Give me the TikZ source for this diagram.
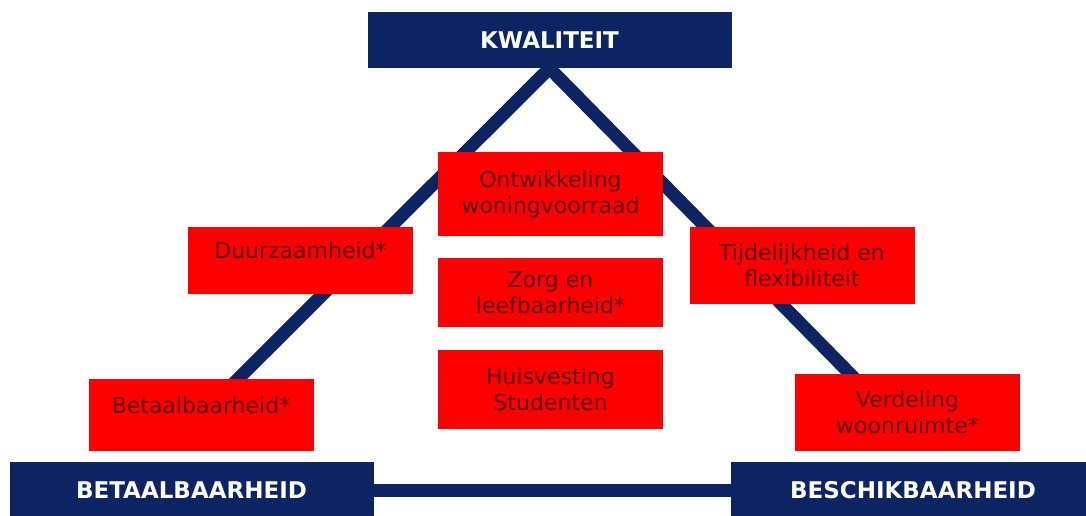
\documentclass[tikz,border=0pt]{standalone}
\usepackage{fontspec}
\setmainfont{DejaVu Sans}
\usetikzlibrary{calc,backgrounds}
\definecolor{navy}{RGB}{12,36,97}
\definecolor{darkred}{RGB}{90,0,0}
\tikzset{
  pole/.style={fill=navy, text=white, font=\bfseries\fontsize{23}{27}\selectfont,
    minimum width=364pt, minimum height=56pt, inner sep=0pt},
  theme/.style={fill=red, text=darkred, font=\fontsize{22}{26}\selectfont,
    align=center, minimum width=225pt, inner sep=0pt},
  edge/.style={draw=navy, line width=13pt}
}

\begin{document}
\begin{tikzpicture}[x=1pt, y=-1pt]
  %
  \useasboundingbox (0,0) rectangle (1086,516);
  \clip (0,0) rectangle (1086,516);
  %
  \node[pole] (kwal) at (549.5,40) {KWALITEIT};
  \node[pole] (betaal) at (191.5,490) {BETAALBAARHEID};
  \node[pole] (beschik) at (913,490) {BESCHIKBAARHEID};
  %
  \node[theme, minimum height=84pt] (ontw) at (550.5,194) {Ontwikkeling\\woningvoorraad};
  \node[theme, minimum height=67pt, text depth=20pt] (duurz) at (300.5,260.5) {Duurzaamheid*};
  \node[theme, minimum height=77pt] (tijd) at (802,265.5) {Tijdelijkheid en\\flexibiliteit};
  \node[theme, minimum height=69pt] (zorg) at (550.5,292.5) {Zorg en\\leefbaarheid*};
  \node[theme, minimum height=79pt] (huis) at (550.5,389.5) {Huisvesting\\Studenten};
  \node[theme, minimum height=72pt, text depth=20pt] (betaalst) at (201,415) {Betaalbaarheid*};
  \node[theme, minimum height=77pt] (verd) at (907.5,412.5) {Verdeling\\woonruimte*};
  %
  \begin{scope}[on background layer]
    \draw[edge] (betaal.east) -- (beschik.west);
    \draw[edge, shorten >=-10pt] (kwal.south) -- ($(betaalst.north west)!0.665!(betaalst.north east)$);
    \draw[edge, shorten >=-10pt] (kwal.south) -- ($(verd.north west)!0.245!(verd.north east)$);
  \end{scope}
\end{tikzpicture}
\end{document}
